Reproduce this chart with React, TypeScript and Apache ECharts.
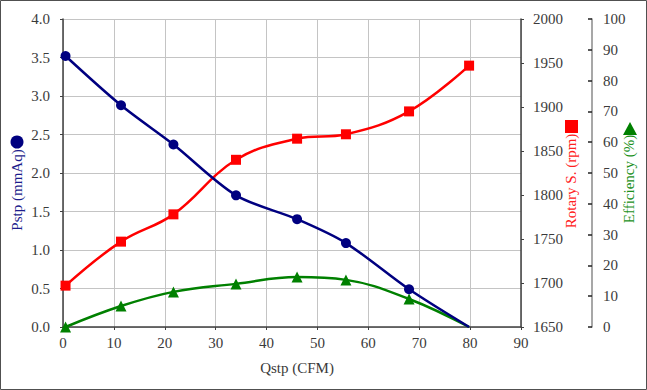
import React, { useEffect, useRef } from "react";
import * as echarts from "echarts";

const qstp = [0.5, 11.4, 21.7, 34.0, 46.0, 55.6, 68.0, 79.8];
const pstp = [3.52, 2.88, 2.37, 1.71, 1.40, 1.09, 0.49, 0.0];
const rpm = [1697, 1747, 1778, 1840, 1864, 1869, 1895, 1947];
const efficiency = [0, 6.8, 11.4, 14.0, 16.2, 15.3, 9.1, 0];

const FONT = "'Liberation Serif', 'Times New Roman', serif";
const TXT = "#3a3a3a";

export default function App() {
  const ref = useRef<HTMLDivElement>(null);
  useEffect(() => {
    const chart = echarts.init(ref.current!, null, { renderer: "svg" });
    const pair = (ys: number[], hideLast: boolean) =>
      ys.map((y, i) =>
        hideLast && i === ys.length - 1
          ? { value: [qstp[i], y], symbol: "none" }
          : { value: [qstp[i], y] }
      );
    chart.setOption({
      animation: false,
      backgroundColor: "#ffffff",
      textStyle: { fontFamily: FONT },
      grid: { left: 63, top: 19, width: 458, height: 308, containLabel: false },
      xAxis: {
        type: "value",
        min: 0,
        max: 90,
        interval: 10,
        axisLine: { show: true, lineStyle: { color: "#404040", width: 1.5 } },
        axisTick: { show: true, length: 3, lineStyle: { color: "#404040" } },
        axisLabel: { color: TXT, fontSize: 15, fontFamily: FONT, margin: 8 },
        splitLine: { show: true, lineStyle: { color: "#c4c4c4", width: 1 } },
      },
      yAxis: [
        {
          type: "value",
          min: 0,
          max: 4,
          interval: 0.5,
          position: "left",
          axisLine: { show: true, lineStyle: { color: "#404040", width: 1.5 } },
          axisTick: { show: true, length: 3, lineStyle: { color: "#404040" } },
          axisLabel: {
            color: TXT,
            fontSize: 15,
            fontFamily: FONT,
            margin: 13,
            formatter: (v: number) => v.toFixed(1),
          },
          splitLine: { show: true, lineStyle: { color: "#c4c4c4", width: 1 } },
        },
        {
          type: "value",
          min: 1650,
          max: 2000,
          interval: 50,
          position: "right",
          axisLine: { show: true, lineStyle: { color: "#404040", width: 1.5 } },
          axisTick: { show: true, length: 3, lineStyle: { color: "#404040" } },
          axisLabel: {
            color: TXT,
            fontSize: 15,
            fontFamily: FONT,
            margin: 12,
            formatter: (v: number) => String(v),
          },
          splitLine: { show: false },
        },
        {
          type: "value",
          min: 0,
          max: 100,
          interval: 10,
          position: "right",
          offset: 71,
          axisLine: { show: true, lineStyle: { color: "#8a8a8a", width: 1.5 } },
          axisTick: { show: true, inside: true, length: 4, lineStyle: { color: "#202020", width: 1.5 } },
          axisLabel: {
            color: TXT,
            fontSize: 15,
            fontFamily: FONT,
            margin: 11,
            formatter: (v: number) => String(v),
          },
          splitLine: { show: false },
        },
      ],
      graphic: [
        {
          type: "rect",
          shape: { x: 0.5, y: 0.5, width: 646, height: 389 },
          style: { fill: "none", stroke: "#505050", lineWidth: 1 },
          silent: true,
        },
        {
          type: "text",
          x: 297,
          y: 368,
          style: {
            text: "Qstp (CFM)",
            fill: TXT,
            fontSize: 15,
            fontFamily: FONT,
            align: "center",
            verticalAlign: "middle",
          },
        },
        {
          type: "circle",
          shape: { cx: 17, cy: 142, r: 6.5 },
          style: { fill: "#000080" },
        },
        {
          type: "text",
          x: 17,
          y: 190,
          rotation: Math.PI / 2,
          style: {
            text: "Pstp (mmAq)",
            fill: "#1c1c8c",
            fontSize: 15,
            fontFamily: FONT,
            align: "center",
            verticalAlign: "middle",
          },
        },
        {
          type: "rect",
          shape: { x: 565, y: 120, width: 13, height: 13 },
          style: { fill: "#ff0000" },
        },
        {
          type: "text",
          x: 571,
          y: 181,
          rotation: Math.PI / 2,
          style: {
            text: "Rotary S. (rpm)",
            fill: "#ff2020",
            fontSize: 15,
            fontFamily: FONT,
            align: "center",
            verticalAlign: "middle",
          },
        },
        {
          type: "polygon",
          shape: { points: [[630, 122], [637, 135], [623, 135]] },
          style: { fill: "#008000" },
        },
        {
          type: "text",
          x: 629,
          y: 179,
          rotation: Math.PI / 2,
          style: {
            text: "Efficiency (%)",
            fill: "#1a901a",
            fontSize: 15,
            fontFamily: FONT,
            align: "center",
            verticalAlign: "middle",
          },
        },
      ],
      series: [
        {
          name: "Efficiency",
          type: "line",
          yAxisIndex: 2,
          data: pair(efficiency, true),
          smooth: 0.4,
          symbol: "triangle",
          symbolSize: 11,
          lineStyle: { color: "#008000", width: 2.5 },
          itemStyle: { color: "#008000" },
          z: 3,
        },
        {
          name: "Rotary S.",
          type: "line",
          yAxisIndex: 1,
          data: pair(rpm, false),
          smooth: 0.4,
          symbol: "rect",
          symbolSize: 10,
          lineStyle: { color: "#ff0000", width: 2.5 },
          itemStyle: { color: "#ff0000" },
          z: 4,
        },
        {
          name: "Pstp",
          type: "line",
          yAxisIndex: 0,
          data: pair(pstp, true),
          smooth: 0.3,
          symbol: "circle",
          symbolSize: 10,
          lineStyle: { color: "#000080", width: 2.5 },
          itemStyle: { color: "#000080" },
          z: 5,
        },
      ],
    });
    return () => chart.dispose();
  }, []);
  return (
    <div
      ref={ref}
      style={{ position: "fixed", left: 0, top: 0, width: 647, height: 390, background: "#fff" }}
    />
  );
}
